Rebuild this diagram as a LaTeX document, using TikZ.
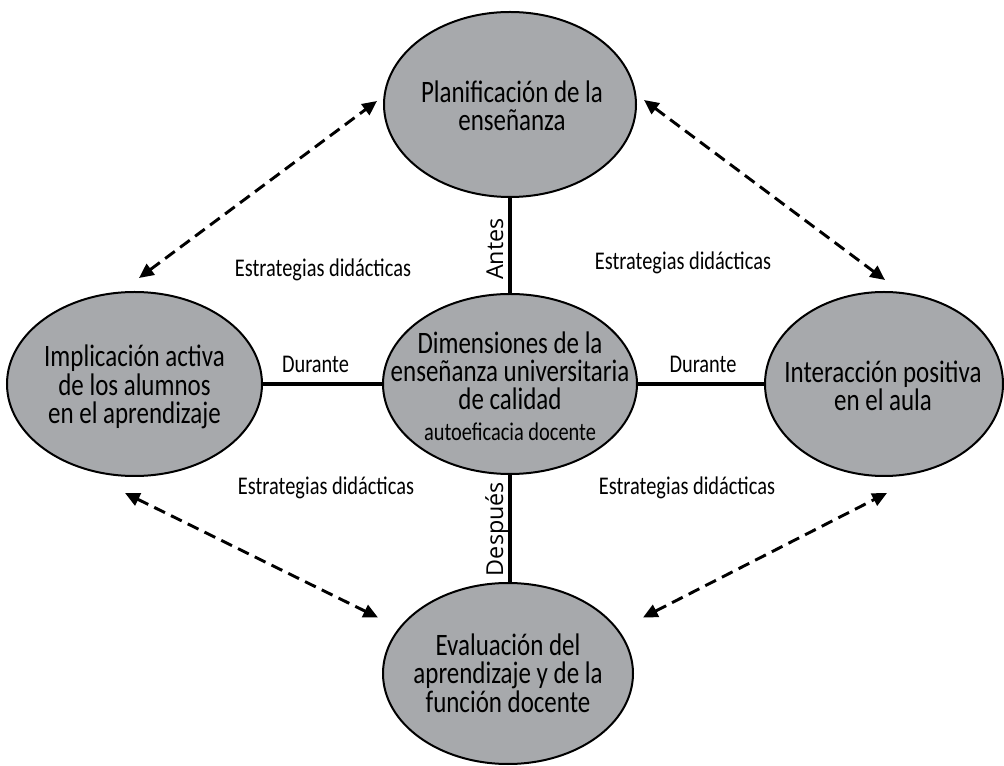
\documentclass[tikz,border=0pt]{standalone}
\usepackage{fontspec}
\setmainfont[FakeStretch=0.8]{Carlito}
\newfontfamily\opensans{Open Sans}
\usetikzlibrary{shapes.geometric,arrows.meta}
\definecolor{ellgray}{RGB}{167,169,172}
\begin{document}
\begin{tikzpicture}[x=0.75pt,y=-0.75pt,
  ell/.style={ellipse, draw=black, line width=1.5pt, fill=ellgray, inner sep=0pt},
  elltext/.style={align=center, inner sep=0pt, font=\fontsize{23.4}{21.25}\selectfont},
  solidlink/.style={line width=3pt},
  dasharrow/.style={line width=2.2pt, dash pattern=on 9pt off 5pt, {Triangle[length=11pt,width=10pt]}-{Triangle[length=11pt,width=10pt]}},
  lbl/.style={font=\fontsize{19.1}{19}\selectfont, anchor=base, inner sep=0pt},
  vlbl/.style={font=\opensans\fontsize{17.5}{17.5}\selectfont, anchor=base, rotate=90, inner sep=0pt}]
\useasboundingbox (0,0) rectangle (1004,766);
\node[ell, minimum width=189pt, minimum height=138.75pt] (T) at (510,104.5) {};
\node[ell, minimum width=190.5pt, minimum height=135pt] (C) at (510,384) {};
\node[ell, minimum width=191.25pt, minimum height=138pt] (L) at (134.5,384) {};
\node[ell, minimum width=178.5pt, minimum height=138pt] (R) at (884,384) {};
\node[ell, minimum width=187.5pt, minimum height=135.75pt] (B) at (508,673.5) {};
\node[elltext] (Tt) at (512,106) {Planificación de la\\enseñanza};
\node[elltext] (Ct) at (510,386) {Dimensiones de la\\enseñanza universitaria\\de calidad\\[1.5pt]{\fontsize{19.1}{19}\selectfont autoeficacia docente}};
\node[elltext] (Lt) at (134.5,387) {Implicación activa\\de los alumnos\\en el aprendizaje};
\node[elltext] (Rt) at (883,386) {Interacción positiva\\en el aula};
\node[elltext] (Bt) at (508,673) {Evaluación del\\aprendizaje y de la\\función docente};
\draw[solidlink] (T.south) -- (C.north);
\draw[solidlink] (C.south) -- (B.north -| C.south);
\draw[solidlink] (L.east) -- (C.west);
\draw[solidlink] (C.east) -- (R.west);
\node[lbl] (d1) at (315.5,373) {Durante};
\node[lbl] (d2) at (703,373) {Durante};
\node[vlbl] (an) at (503,249) {Antes};
\node[vlbl] (de) at (503,529) {Después};
\node[lbl] (e1) at (323,277) {Estrategias didácticas};
\node[lbl] (e2) at (683,270) {Estrategias didácticas};
\node[lbl] (e3) at (326,495) {Estrategias didácticas};
\node[lbl] (e4) at (687,495) {Estrategias didácticas};
\draw[dasharrow] ([shift={(4.5,-13)}]L.north) -- ([shift={(-6,-3.5)}]T.west);
\draw[dasharrow] ([shift={(7,-4.5)}]T.east) -- ([shift={(1,-11)}]R.north);
\draw[dasharrow] ([shift={(-9.5,16)}]L.south) -- ([shift={(-4,-56)}]B.west);
\draw[dasharrow] ([shift={(9,-56)}]B.east) -- ([shift={(3,16)}]R.south);
\end{tikzpicture}
\end{document}
